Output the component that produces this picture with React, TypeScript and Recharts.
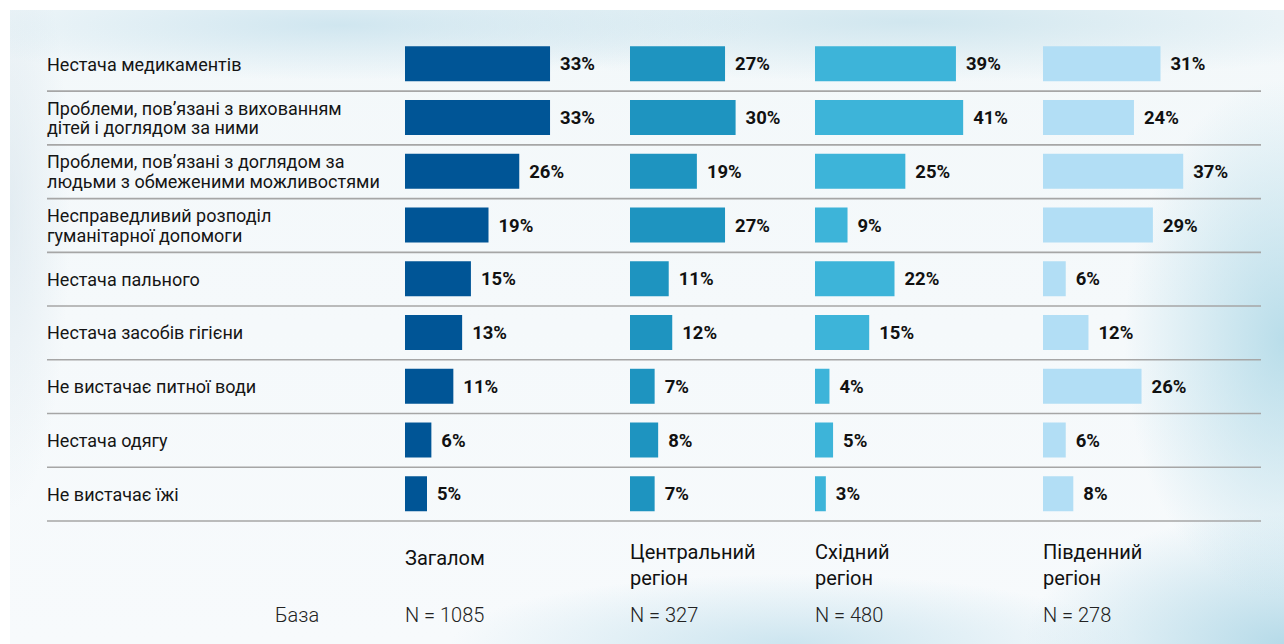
import React from 'react';
import { BarChart, Bar, XAxis, YAxis, ReferenceLine, LabelList } from 'recharts';

// ---------- data ----------
const categories = [
  'Нестача медикаментів',
  'Проблеми, пов’язані з вихованням\nдітей і доглядом за ними',
  'Проблеми, пов’язані з доглядом за\nлюдьми з обмеженими можливостями',
  'Несправедливий розподіл\nгуманітарної допомоги',
  'Нестача пального',
  'Нестача засобів гігієни',
  'Не вистачає питної води',
  'Нестача одягу',
  'Не вистачає їжі',
];
const overall = [33, 33, 26, 19, 15, 13, 11, 6, 5];
const central = [27, 30, 19, 27, 11, 12, 7, 8, 7];
const eastern = [39, 41, 25, 9, 22, 15, 4, 5, 3];
const southern = [31, 24, 37, 29, 6, 12, 26, 6, 8];
const groupNames = ['Загалом', 'Центральний\nрегіон', 'Східний\nрегіон', 'Південний\nрегіон'];
const groupBases = [1085, 327, 480, 278];
const baseLabel = 'База';

const data = categories.map((label, i) => ({
  label,
  overall: overall[i],
  central: central[i],
  eastern: eastern[i],
  southern: southern[i],
}));

// ---------- layout ----------
const W = 1284;
const H = 644;
const TOP = 37.3;
const BOTTOM = 123;
const LABEL_X = 47;
const LINE_RIGHT = 1261;
const FONT = 'Roboto, "Noto Sans", sans-serif';

const columns = [
  { key: 'overall', color: '#005596', left: 405, max: 40, plot: 175.8 },
  { key: 'central', color: '#1e94c0', left: 630, max: 40, plot: 140.8 },
  { key: 'eastern', color: '#3db4d9', left: 815, max: 50, plot: 180.7 },
  { key: 'southern', color: '#b2def5', left: 1043, max: 40, plot: 151.6 },
];
const LABEL_ROOM = 70;

const CategoryTick = (props: any) => {
  const { y, payload } = props;
  const lines = String(payload.value).split('\n');
  const lh = 19.5;
  const first = y + 6.5 - ((lines.length - 1) * lh) / 2;
  return (
    <text x={LABEL_X} y={first} textAnchor="start" fontSize={18} fill="#151515" fontFamily={FONT}>
      {lines.map((l, i) => (
        <tspan key={i} x={LABEL_X} y={first + i * lh}>
          {l}
        </tspan>
      ))}
    </text>
  );
};

const background =
  'radial-gradient(ellipse 420px 55px at 330px 15px, rgba(196,224,236,0.75), rgba(196,224,236,0) 100%),' +
  'radial-gradient(ellipse 520px 60px at 900px 12px, rgba(200,226,236,0.8), rgba(200,226,236,0) 100%),' +
  'radial-gradient(ellipse 160px 260px at 1274px 330px, rgba(165,212,228,0.75), rgba(165,212,228,0) 100%),' +
  'radial-gradient(ellipse 260px 130px at 1274px 634px, rgba(160,208,226,0.75), rgba(160,208,226,0) 100%),' +
  'radial-gradient(ellipse 340px 70px at 780px 634px, rgba(186,220,234,0.7), rgba(186,220,234,0) 100%),' +
  'radial-gradient(ellipse 60px 300px at 0px 200px, rgba(215,228,236,0.6), rgba(215,228,236,0) 100%),' +
  'linear-gradient(#f3f8fa, #f7fafc)';

export default function App() {
  return (
    <div
      style={{
        position: 'absolute',
        left: 0,
        top: 0,
        width: W,
        height: H,
        background: '#ffffff',
        overflow: 'hidden',
        fontFamily: FONT,
      }}
    >
      <div style={{ position: 'absolute', left: 10, top: 10, width: W - 10, height: H - 10, background }} />

      {/* labels + separator lines */}
      <div style={{ position: 'absolute', left: 0, top: 0 }}>
        <BarChart
          width={W}
          height={H}
          layout="vertical"
          data={data}
          margin={{ top: TOP, right: W - LINE_RIGHT, bottom: BOTTOM, left: LABEL_X }}
        >
          <XAxis type="number" hide domain={[0, 100]} />
          <YAxis
            type="category"
            dataKey="label"
            mirror
            axisLine={false}
            tickLine={false}
            interval={0}
            tick={(p: any) => <CategoryTick {...p} />}
          />
          <Bar dataKey="overall" fill="transparent" barSize={35} isAnimationActive={false} />
          {categories.map((c) => (
            <ReferenceLine key={c} y={c} position="end" stroke="#a6a6a6" strokeWidth={1.7} />
          ))}
        </BarChart>
      </div>

      {/* four column charts */}
      {columns.map((col) => (
        <div key={col.key} style={{ position: 'absolute', left: col.left, top: 0 }}>
          <BarChart
            width={col.plot + LABEL_ROOM}
            height={H}
            layout="vertical"
            data={data}
            margin={{ top: TOP, right: LABEL_ROOM, bottom: BOTTOM, left: 0 }}
          >
            <XAxis type="number" hide domain={[0, col.max]} allowDataOverflow />
            <YAxis type="category" dataKey="label" hide />
            <Bar dataKey={col.key} fill={col.color} barSize={35} isAnimationActive={false}>
              <LabelList
                dataKey={col.key}
                position="right"
                offset={10}
                formatter={(v: any) => `${v}%`}
                fill="#111111"
                fontSize={18.5}
                fontWeight={700}
                fontFamily={FONT}
              />
            </Bar>
          </BarChart>
        </div>
      ))}

      {/* column headers and bases */}
      <svg width={W} height={H} style={{ position: 'absolute', left: 0, top: 0, pointerEvents: 'none' }}>
        {groupNames.map((name, i) => {
          const lines = name.split('\n');
          const x = columns[i].left;
          const y0 = lines.length === 1 ? 565 : 558.5;
          return (
            <text key={name} x={x} y={y0} fontSize={20} fill="#111111" fontFamily={FONT}>
              {lines.map((l, j) => (
                <tspan key={j} x={x} y={y0 + j * 26.5}>
                  {l}
                </tspan>
              ))}
            </text>
          );
        })}
        <text x={275} y={621.5} fontSize={20} fontWeight={300} fill="#222222" fontFamily={FONT}>
          {baseLabel}
        </text>
        {groupBases.map((n, i) => (
          <text key={i} x={columns[i].left} y={621.5} fontSize={20} fontWeight={300} fill="#222222" fontFamily={FONT}>
            {`N = ${n}`}
          </text>
        ))}
      </svg>
    </div>
  );
}
